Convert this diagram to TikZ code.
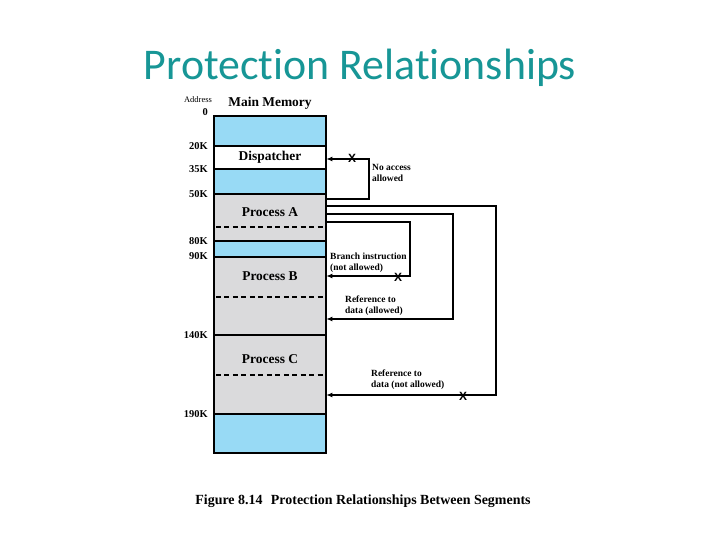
\documentclass[tikz,border=0pt]{standalone}
\usepackage{fontspec}
\setmainfont{Liberation Serif}
\newfontfamily\titlefont[Ligatures={NoCommon,NoRare,NoContextual}]{Carlito}
\newfontfamily\xfont{Liberation Sans}
\usetikzlibrary{arrows.meta}
\definecolor{titleteal}{RGB}{23,150,150}
\definecolor{memblue}{RGB}{152,218,245}
\definecolor{memgrey}{RGB}{218,218,220}
\tikzset{
  seg/.style={draw=black, line width=1.2pt},
  dsh/.style={line width=1.3pt, dash pattern=on 5pt off 3.5pt},
  conn/.style={line width=1.4pt, -{Latex[length=6.5pt,width=5pt]}},
  addr/.style={font=\bfseries\fontsize{10.5}{11}\selectfont, anchor=east, inner sep=0pt},
  seglabel/.style={font=\bfseries\fontsize{13.5}{14}\selectfont, inner sep=0pt},
  note/.style={font=\bfseries\fontsize{9.5}{11}\selectfont, align=left, anchor=west, inner sep=0pt},
  xmark/.style={font=\xfont\bfseries\fontsize{12}{12}\selectfont, inner sep=0pt},
}
\begin{document}
\begin{tikzpicture}[x=1bp,y=-1bp]
\useasboundingbox (0,0) rectangle (720,540);
% title
\node[text=titleteal, font=\titlefont\fontsize{44}{48}\selectfont] (title) at (360,68) {Protection Relationships};
% memory segments
\fill[memblue] (214,116) rectangle (326,146);
\fill[white] (214,146) rectangle (326,169);
\fill[memblue] (214,169) rectangle (326,194);
\fill[memgrey] (214,194) rectangle (326,241);
\fill[memblue] (214,241) rectangle (326,257);
\fill[memgrey] (214,257) rectangle (326,414);
\fill[memblue] (214,414) rectangle (326,453);
\draw[seg] (214,146) -- (326,146);
\draw[seg] (214,169) -- (326,169);
\draw[seg] (214,194) -- (326,194);
\draw[seg] (214,241) -- (326,241);
\draw[seg] (214,257) -- (326,257);
\draw[seg] (214,335) -- (326,335);
\draw[seg] (214,414) -- (326,414);
\draw[seg] (214,116) rectangle (326,453);
\draw[dsh] (216,227) -- (324,227);
\draw[dsh] (216,297) -- (324,297);
\draw[dsh] (216,375) -- (324,375);
% headers
\node[font=\fontsize{8.5}{9}\selectfont, inner sep=0pt] (addrhead) at (198,100) {Address};
\node[font=\bfseries\fontsize{13.5}{14}\selectfont, inner sep=0pt] (mmhead) at (270,103) {Main Memory};
% addresses
\node[addr] (a0) at (208,112) {0};
\node[addr] (a20) at (208,146) {20K};
\node[addr] (a35) at (208,169) {35K};
\node[addr] (a50) at (208,194) {50K};
\node[addr] (a80) at (208,241) {80K};
\node[addr] (a90) at (208,256) {90K};
\node[addr] (a140) at (208,335) {140K};
\node[addr] (a190) at (208,414) {190K};
% segment labels
\node[seglabel] (disp) at (270,157) {Dispatcher};
\node[seglabel] (pa) at (270,212) {Process A};
\node[seglabel] (pb) at (270,276) {Process B};
\node[seglabel] (pc) at (270,359) {Process C};
% connector end points
\coordinate (d0) at (326,199);
\coordinate (d1) at (369,199);
\coordinate (d2) at (369,159);
\coordinate (d3) at (326,159);
\coordinate (o0) at (326,206);
\coordinate (o1) at (496,206);
\coordinate (o2) at (496,395);
\coordinate (o3) at (326,395);
\coordinate (m0) at (326,214);
\coordinate (m1) at (453,214);
\coordinate (m2) at (453,319);
\coordinate (m3) at (326,319);
\coordinate (i0) at (326,222);
\coordinate (i1) at (410,222);
\coordinate (i2) at (410,276);
\coordinate (i3) at (326,276);
\draw[conn] (d0) -- (d1) -- (d2) -- (d3);
\draw[conn] (o0) -- (o1) -- (o2) -- (o3);
\draw[conn] (m0) -- (m1) -- (m2) -- (m3);
\draw[conn] (i0) -- (i1) -- (i2) -- (i3);
% X marks
\node[xmark] (x1) at (352,158) {X};
\node[xmark] (x2) at (398,277) {X};
\node[xmark] (x3) at (463,396) {X};
% notes
\node[note] (n1) at (372,173) {No access\\allowed};
\node[note] (n2) at (330,263) {Branch instruction\\(not allowed)};
\node[note] (n3) at (345,306) {Reference to\\data (allowed)};
\node[note] (n4) at (371,380) {Reference to\\data (not allowed)};
% caption
\node[font=\bfseries\fontsize{14}{16}\selectfont, inner sep=0pt] (cap) at (363,501) {Figure 8.14\hspace{0.6em}Protection Relationships Between Segments};
\end{tikzpicture}
\end{document}
